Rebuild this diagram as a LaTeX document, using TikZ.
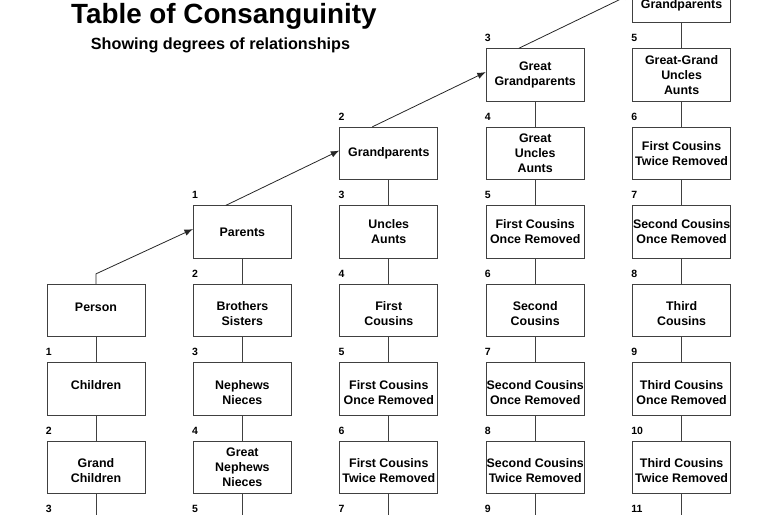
\documentclass[tikz,border=0pt]{standalone}
\usepackage{fontspec}
\setmainfont{Liberation Sans}
\usetikzlibrary{arrows.meta}
\newcommand{\lowline}{\rule{0pt}{16pt}}
\begin{document}
\begin{tikzpicture}[x=1pt,y=-1pt,
  box/.style={draw=black!75, line width=0.9pt, minimum width=98pt, minimum height=52.5pt,
    inner sep=0pt, align=center, font=\bfseries\fontsize{12.4}{15}\selectfont},
  highone/.style={text height=9pt, text depth=8pt},
  num/.style={anchor=west, inner sep=0pt, font=\bfseries\fontsize{10.5}{12}\selectfont},
  link/.style={draw=black!75, line width=0.9pt},
  uparrow/.style={draw=black!85, line width=0.8pt, -{Latex[length=8.5pt,width=6.5pt]}}]
\useasboundingbox (0,0) rectangle (768,514);
% title
\node[anchor=base west, inner sep=0pt, font=\bfseries\fontsize{27.8}{32}\selectfont] (title) at (71,23.3) {Table of Consanguinity};
\node[anchor=base west, inner sep=0pt, font=\bfseries\fontsize{16.2}{19}\selectfont] (subtitle) at (90.7,49.3) {Showing degrees of relationships};
% column 0
\node[box,highone] (p)   at (96,310.55) {Person};
\node[box,highone] (c1)  at (96,389.05) {Children};
\node[box] (c2)  at (96,467.55) {\lowline Grand\\Children};
% column 1
\node[box] (par)  at (242.4,232.05) {Parents};
\node[box] (sib)  at (242.4,310.55) {\lowline Brothers\\Sisters};
\node[box] (nep)  at (242.4,389.05) {\lowline Nephews\\Nieces};
\node[box] (gnep) at (242.4,467.55) {Great\\Nephews\\Nieces};
% column 2
\node[box] (gp)   at (388.8,153.55) {Grandparents};
\node[box] (ua)   at (388.8,232.05) {Uncles\\Aunts};
\node[box] (fc)   at (388.8,310.55) {\lowline First\\Cousins};
\node[box] (fcor) at (388.8,389.05) {\lowline First Cousins\\Once Removed};
\node[box] (fctr) at (388.8,467.55) {\lowline First Cousins\\Twice Removed};
% column 3
\node[box] (ggp)   at (535.2,75.05) {Great\\Grandparents};
\node[box] (gua)   at (535.2,153.55) {Great\\Uncles\\Aunts};
\node[box] (fcorb) at (535.2,232.05) {First Cousins\\Once Removed};
\node[box] (sc)    at (535.2,310.55) {\lowline Second\\Cousins};
\node[box] (scor)  at (535.2,389.05) {\lowline Second Cousins\\Once Removed};
\node[box] (sctr)  at (535.2,467.55) {\lowline Second Cousins\\Twice Removed};
% column 4
\node[box] (gggp)  at (681.6,-3.45) {\raisebox{-11.5pt}[0pt][0pt]{Grandparents}};
\node[box] (ggua)  at (681.6,75.05) {Great-Grand\\Uncles\\Aunts};
\node[box] (fctrb) at (681.6,153.55) {First Cousins\\Twice Removed};
\node[box] (scorb) at (681.6,232.05) {Second Cousins\\Once Removed};
\node[box] (tc)    at (681.6,310.55) {\lowline Third\\Cousins};
\node[box] (tcor)  at (681.6,389.05) {\lowline Third Cousins\\Once Removed};
\node[box] (tctr)  at (681.6,467.55) {\lowline Third Cousins\\Twice Removed};
% free ends at the bottom
\coordinate (e0) at (96,530);
\coordinate (e1) at (242.4,530);
\coordinate (e2) at (388.8,530);
\coordinate (e3) at (535.2,530);
\coordinate (e4) at (681.6,530);
% vertical links
\draw[link] (p) -- (c1) (c1) -- (c2) (c2) -- (e0);
\draw[link] (par) -- (sib) (sib) -- (nep) (nep) -- (gnep) (gnep) -- (e1);
\draw[link] (gp) -- (ua) (ua) -- (fc) (fc) -- (fcor) (fcor) -- (fctr) (fctr) -- (e2);
\draw[link] (ggp) -- (gua) (gua) -- (fcorb) (fcorb) -- (sc) (sc) -- (scor) (scor) -- (sctr) (sctr) -- (e3);
\draw[link] (gggp) -- (ggua) (ggua) -- (fctrb) (fctrb) -- (scorb) (scorb) -- (tc) (tc) -- (tcor) (tcor) -- (tctr) (tctr) -- (e4);
% ascending arrows
\draw[uparrow] (p.north) -- ++(0,-10) -- ([yshift=3pt]par.west);
\draw[uparrow] ([xshift=-16.5pt]par.north) -- ([yshift=3pt]gp.west);
\draw[uparrow] ([xshift=-16.5pt]gp.north) -- ([yshift=3pt]ggp.west);
\draw[uparrow] ([xshift=-16.5pt]ggp.north) -- ([yshift=3pt]gggp.west);
% degree numbers
\path (c1.north west) ++(-1,-10) node[num] (n01) {1};
\path (c2.north west) ++(-1,-10) node[num] (n02) {2};
\path (c2.south west) ++(-1,14.5) node[num] (n03) {3};
\path (par.north west) ++(-1,-10) node[num] (n11) {1};
\path (sib.north west) ++(-1,-10) node[num] (n12) {2};
\path (nep.north west) ++(-1,-10) node[num] (n13) {3};
\path (gnep.north west) ++(-1,-10) node[num] (n14) {4};
\path (gnep.south west) ++(-1,14.5) node[num] (n15) {5};
\path (gp.north west) ++(-1,-10) node[num] (n22) {2};
\path (ua.north west) ++(-1,-10) node[num] (n23) {3};
\path (fc.north west) ++(-1,-10) node[num] (n24) {4};
\path (fcor.north west) ++(-1,-10) node[num] (n25) {5};
\path (fctr.north west) ++(-1,-10) node[num] (n26) {6};
\path (fctr.south west) ++(-1,14.5) node[num] (n27) {7};
\path (ggp.north west) ++(-1,-10) node[num] (n33) {3};
\path (gua.north west) ++(-1,-10) node[num] (n34) {4};
\path (fcorb.north west) ++(-1,-10) node[num] (n35) {5};
\path (sc.north west) ++(-1,-10) node[num] (n36) {6};
\path (scor.north west) ++(-1,-10) node[num] (n37) {7};
\path (sctr.north west) ++(-1,-10) node[num] (n38) {8};
\path (sctr.south west) ++(-1,14.5) node[num] (n39) {9};
\path (ggua.north west) ++(-1,-10) node[num] (n45) {5};
\path (fctrb.north west) ++(-1,-10) node[num] (n46) {6};
\path (scorb.north west) ++(-1,-10) node[num] (n47) {7};
\path (tc.north west) ++(-1,-10) node[num] (n48) {8};
\path (tcor.north west) ++(-1,-10) node[num] (n49) {9};
\path (tctr.north west) ++(-1,-10) node[num] (n410) {10};
\path (tctr.south west) ++(-1,14.5) node[num] (n411) {11};
\end{tikzpicture}
\end{document}
